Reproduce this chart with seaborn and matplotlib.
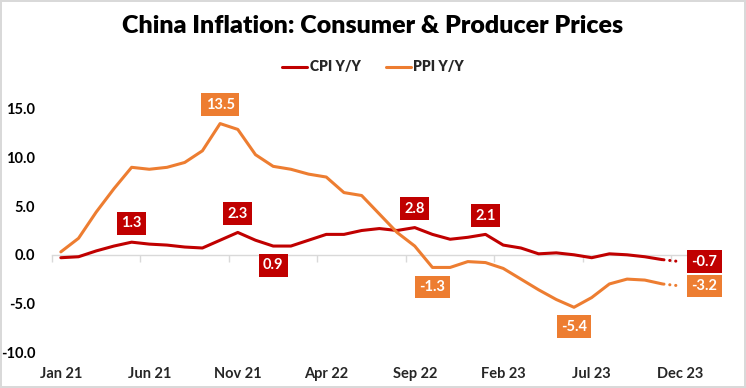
import numpy as np
import pandas as pd
import matplotlib
matplotlib.use("Agg")
import matplotlib.pyplot as plt
import matplotlib.ticker as mticker
import seaborn as sns

months = ["Jan 21", "Feb 21", "Mar 21", "Apr 21", "May 21", "Jun 21", "Jul 21", "Aug 21",
          "Sep 21", "Oct 21", "Nov 21", "Dec 21", "Jan 22", "Feb 22", "Mar 22", "Apr 22",
          "May 22", "Jun 22", "Jul 22", "Aug 22", "Sep 22", "Oct 22", "Nov 22", "Dec 22",
          "Jan 23", "Feb 23", "Mar 23", "Apr 23", "May 23", "Jun 23", "Jul 23", "Aug 23",
          "Sep 23", "Oct 23", "Nov 23", "Dec 23"]
cpi = [-0.3, -0.2, 0.4, 0.9, 1.3, 1.1, 1.0, 0.8, 0.7, 1.5, 2.3, 1.5,
       0.9, 0.9, 1.5, 2.1, 2.1, 2.5, 2.7, 2.5, 2.8, 2.1, 1.6, 1.8,
       2.1, 1.0, 0.7, 0.1, 0.2, 0.0, -0.3, 0.1, 0.0, -0.2, -0.5, -0.7]
ppi = [0.3, 1.7, 4.4, 6.8, 9.0, 8.8, 9.0, 9.5, 10.7, 13.5, 12.9, 10.3,
       9.1, 8.8, 8.3, 8.0, 6.4, 6.1, 4.2, 2.3, 0.9, -1.3, -1.3, -0.7,
       -0.8, -1.4, -2.5, -3.6, -4.6, -5.4, -4.4, -3.0, -2.5, -2.6, -3.0, -3.2]
tick_labels = ["Jan 21", "Jun 21", "Nov 21", "Apr 22", "Sep 22", "Feb 23", "Jul 23", "Dec 23"]
series_names = ["CPI Y/Y", "PPI Y/Y"]
title = "China Inflation: Consumer & Producer Prices"

# labelled points: (month index, placement)
cpi_labels = [(4, "above"), (10, "above"), (12, "below"), (20, "above"), (24, "above"), (35, "right")]
ppi_labels = [(9, "above"), (21, "below"), (29, "below"), (35, "right")]

CPI_COLOR = "#C00000"
PPI_COLOR = "#ED7D31"

sns.set_theme(style="white")
plt.rcParams["font.family"] = ["Lato", "DejaVu Sans"]
plt.rcParams["font.weight"] = "bold"

n = len(months)
idx = np.arange(n)
df = pd.DataFrame({"idx": np.concatenate([idx, idx]),
                   "value": cpi + ppi,
                   "series": [series_names[0]] * n + [series_names[1]] * n})
solid = df[df["idx"] <= n - 2]
fcst = df[df["idx"] >= n - 2]

fig = plt.figure(figsize=(7.46, 3.88), dpi=100)
fig.patch.set_edgecolor("#D9D9D9")
fig.patch.set_linewidth(1.5)
ax = fig.add_axes([52 / 746, 1 - 352 / 388, (689 - 52) / 746, (352 - 109) / 388])

palette = {series_names[0]: CPI_COLOR, series_names[1]: PPI_COLOR}
sns.lineplot(data=solid, x="idx", y="value", hue="series", palette=palette,
             linewidth=2.2, ax=ax, legend=True, zorder=3)
sns.lineplot(data=fcst, x="idx", y="value", hue="series", palette=palette,
             linewidth=2.2, ax=ax, legend=False, zorder=3)
for line in ax.get_lines()[-2:]:
    line.set_linestyle((1.5, (0.05, 1.9)))
    line.set_dash_capstyle("round")

ax.set_xlim(-0.5, n - 0.5)
ax.set_ylim(-10, 15)
ax.set_xlabel("")
ax.set_ylabel("")

# y axis
ax.yaxis.set_major_locator(mticker.MultipleLocator(5))
ax.yaxis.set_major_formatter(mticker.FormatStrFormatter("%.1f"))
ax.tick_params(axis="y", length=0, pad=12, labelsize=10.5, labelcolor="black")
for t in ax.get_yticklabels():
    t.set_fontweight("bold")

# zero axis line with tick marks between categories
for s in ["left", "right", "top"]:
    ax.spines[s].set_visible(False)
ax.spines["bottom"].set_position(("data", 0))
ax.spines["bottom"].set_color("#D9D9D9")
ax.spines["bottom"].set_linewidth(1.0)
ax.xaxis.set_major_locator(mticker.FixedLocator(np.arange(-0.5, n - 0.5, 5)))
ax.xaxis.set_major_formatter(mticker.NullFormatter())
ax.tick_params(axis="x", which="major", length=5, width=1.0, color="#D9D9D9",
               direction="out", bottom=True)

# category labels at the bottom
sec = ax.secondary_xaxis("bottom")
sec.set_xticks(np.arange(0, n, 5))
sec.set_xticklabels(tick_labels)
sec.tick_params(length=0, pad=11, labelsize=10.5)
for t in sec.get_xticklabels():
    t.set_fontweight("bold")
sec.spines["bottom"].set_visible(False)

def add_labels(values, labels, color):
    for i, where in labels:
        v = values[i]
        txt = f"{v:.1f}"
        if where == "above":
            off, ha, va = (0, 13.5), "center", "center"
        elif where == "below":
            off, ha, va = (0, -14), "center", "center"
        else:
            off, ha, va = (8, 0), "left", "center"
        ax.annotate(txt, (i, v), xytext=off, textcoords="offset points",
                    ha=ha, va=va, color="white", fontsize=10.5, fontweight="bold",
                    bbox=dict(boxstyle="square,pad=0.3", fc=color, ec="none"),
                    zorder=5, annotation_clip=False)

add_labels(cpi, cpi_labels, CPI_COLOR)
add_labels(ppi, ppi_labels, PPI_COLOR)

# legend
handles, labs = ax.get_legend_handles_labels()
ax.legend_.remove()
fig.legend(handles[:2], labs[:2], loc="center", bbox_to_anchor=(0.5, 1 - 67 / 388),
           ncol=2, frameon=False, handlelength=1.8, handletextpad=0.2, columnspacing=1.8,
           prop={"family": ["Lato", "DejaVu Sans"], "weight": "heavy", "size": 10})

fig.text(0.5, 1 - 26 / 388, title, ha="center", va="center", fontsize=18,
         fontweight="heavy", color="black")

fig.savefig("out.png", dpi=100, edgecolor=fig.get_edgecolor(), facecolor="white")
